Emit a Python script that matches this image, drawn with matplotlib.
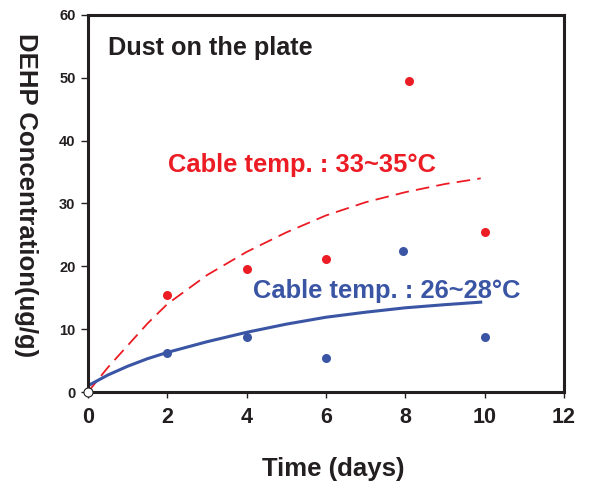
import numpy as np
import matplotlib.pyplot as plt

plt.rcParams['font.family'] = ['Liberation Sans', 'DejaVu Sans']
plt.rcParams['font.weight'] = 'bold'

# 測定点 (日数, 濃度)
red_days = [2, 4, 6, 8.1, 10]
red_conc = [15.5, 19.5, 21.2, 49.5, 25.4]
blue_days = [2, 4, 6, 7.95, 10]
blue_conc = [6.2, 8.8, 5.4, 22.4, 8.8]

# 近似曲線
fit_days = [0, 0.5, 1, 1.5, 2, 3, 4, 5, 6, 7, 8, 9, 9.9]
red_fit = [0, 3.9, 7.4, 10.9, 14.0, 18.6, 22.3, 25.4, 28.1, 30.2, 31.8, 33.1, 34.0]
blue_fit = [1.0, 2.7, 4.1, 5.3, 6.3, 8.0, 9.5, 10.8, 11.9, 12.7, 13.4, 13.9, 14.3]

RED = '#ec1c24'
BLUE = '#3a55a4'
INK = '#231f20'

fig = plt.figure(figsize=(5.89, 4.83), dpi=100)
ax = fig.add_axes([0.1494, 0.1884, 0.8082, 0.7806])

ax.plot(fit_days, red_fit, color=RED, lw=1.3, dashes=(7.5, 4))
ax.plot(fit_days, blue_fit, color=BLUE, lw=2.2)
ax.plot(red_days, red_conc, 'o', color=RED, ms=6.5, mec='none')
ax.plot(blue_days, blue_conc, 'o', color=BLUE, ms=6.5, mec='none')
ax.plot([0], [0], 'o', mfc='white', mec=INK, ms=6.5, mew=0.8, clip_on=False, zorder=5)

ax.text(0.5, 54.8, 'Dust on the plate', fontsize=18.2, fontweight='bold', color=INK, va='center')
ax.text(2.02, 36.1, 'Cable temp. : 33~35\u00b0C', fontsize=18.4, fontweight='bold', color=RED, va='center')
ax.text(4.15, 16.1, 'Cable temp. : 26~28\u00b0C', fontsize=18.4, fontweight='bold', color=BLUE, va='center')

ax.set_xlim(0, 12)
ax.set_ylim(0, 60)
ax.set_xticks(range(0, 13, 2))
ax.set_yticks(range(0, 61, 10))
ax.tick_params(axis='x', labelsize=15.5, length=4, width=1, colors=INK, pad=7)
ax.tick_params(axis='y', labelsize=10.5, length=5, width=1, colors=INK, pad=4)
for lab in ax.get_xticklabels() + ax.get_yticklabels():
    lab.set_fontweight('bold')

for s in ax.spines.values():
    s.set_linewidth(2.2)
    s.set_color(INK)

ax.set_xlabel('Time (days)', fontsize=18.5, fontweight='bold', color=INK)
ax.xaxis.set_label_coords(0.515, -0.172)
ax.set_ylabel('DEHP Concentration(ug/g)', fontsize=18.5, fontweight='bold', color=INK,
              rotation=270, va='center')
ax.yaxis.set_label_coords(-0.130, 0.523)

fig.savefig('out.png', dpi=100)
